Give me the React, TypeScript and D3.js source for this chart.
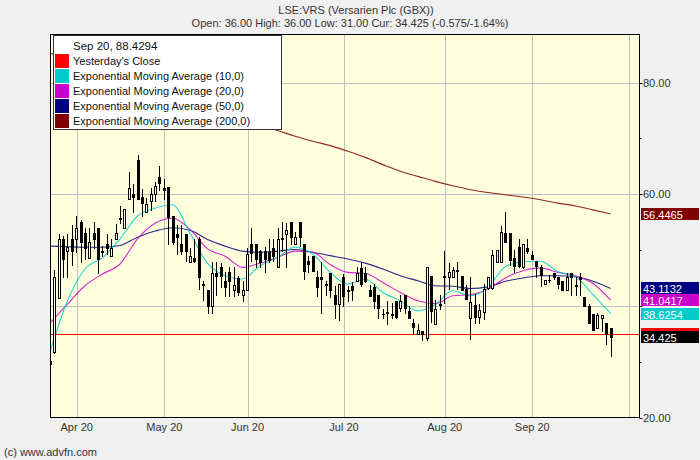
import React, { useEffect, useRef } from 'react';
import * as d3 from 'd3';

// daily candles, 23 Mar 2020 .. 24 Sep 2020 (trading days)
const opens = [
  30.2, 31.8, 41.4, 52.0, 49.9, 52.0, 51.9, 55.1, 53.0, 48.6,
  53.0, 54.0, 49.9, 51.0, 49.0, 51.9, 55.8, 54.0, 59.1, 60.1,
  66.2, 59.5, 56.9, 58.7, 60.1, 63.1, 61.1, 61.3, 56.1, 52.8,
  51.0, 52.8, 47.8, 48.5, 52.0, 44.0, 42.8, 40.0, 45.9, 47.0,
  44.5, 46.0, 42.8, 45.0, 42.0, 42.8, 51.0, 51.0, 49.8, 49.8,
  49.6, 50.4, 46.9, 52.1, 52.9, 55.1, 51.0, 55.1, 51.1, 48.0,
  49.0, 45.1, 45.1, 43.9, 45.9, 42.0, 40.3, 45.1, 42.9, 43.6,
  44.4, 46.8, 45.9, 42.8, 43.4, 42.0, 38.6, 38.9, 38.5, 40.9,
  39.7, 42.0, 39.0, 37.0, 34.9, 35.5, 34.3, 45.4, 36.8, 40.4,
  45.3, 45.1, 45.1, 46.4, 45.3, 43.1, 37.9, 40.1, 38.0, 38.9,
  43.2, 43.2, 47.9, 47.9, 53.1, 53.0, 48.6, 50.5, 47.0, 50.4,
  49.1, 48.1, 47.0, 44.0, 44.7, 45.8, 45.1, 44.5, 42.9, 45.8,
  43.7, 45.1, 41.6, 39.9, 38.6, 36.1, 37.9, 36.9, 36.0,
];
const highs = [
  30.4, 46.5, 52.8, 52.5, 52.8, 54.5, 56.1, 55.3, 54.0, 54.0,
  55.1, 54.0, 50.8, 52.8, 52.0, 54.6, 57.9, 57.3, 63.9, 61.9,
  67.1, 60.9, 59.3, 61.1, 62.1, 65.0, 62.7, 61.3, 56.1, 54.5,
  54.5, 52.8, 50.4, 52.0, 52.3, 44.5, 42.8, 47.8, 47.8, 47.7,
  46.0, 46.9, 46.9, 45.4, 44.5, 50.4, 54.0, 51.0, 50.0, 50.5,
  52.0, 51.9, 54.0, 55.1, 54.8, 55.1, 53.2, 55.1, 51.1, 49.0,
  49.0, 46.3, 47.8, 44.5, 45.9, 43.6, 43.9, 45.7, 43.6, 44.2,
  46.9, 47.8, 46.9, 43.8, 43.9, 42.0, 39.4, 40.9, 40.6, 40.9,
  42.0, 42.0, 40.0, 37.6, 36.7, 35.5, 46.9, 45.4, 41.0, 42.0,
  49.9, 47.7, 46.9, 47.9, 45.3, 43.8, 45.2, 42.1, 40.3, 44.0,
  45.2, 50.0, 50.0, 54.3, 56.9, 53.0, 50.0, 52.0, 51.0, 51.9,
  49.9, 48.1, 47.4, 44.6, 45.6, 45.8, 45.1, 44.5, 45.8, 45.8,
  45.2, 45.8, 41.6, 40.3, 38.6, 38.8, 38.4, 36.9, 36.0,
];
const lows = [
  29.4, 31.6, 41.4, 45.1, 45.1, 47.4, 49.6, 47.8, 48.4, 48.6,
  50.4, 45.9, 49.0, 49.3, 49.0, 51.9, 54.8, 54.0, 59.1, 56.9,
  59.1, 56.1, 56.9, 57.2, 58.7, 60.7, 59.1, 51.1, 51.0, 49.3,
  49.3, 48.0, 47.8, 47.8, 43.0, 41.0, 38.7, 38.8, 42.0, 43.3,
  41.8, 41.8, 41.8, 41.9, 40.9, 42.8, 48.0, 47.0, 46.9, 46.0,
  47.8, 48.0, 46.9, 49.9, 46.9, 51.0, 51.0, 50.7, 44.8, 46.0,
  46.2, 41.8, 38.8, 42.0, 41.5, 37.9, 37.5, 40.0, 40.9, 41.0,
  44.4, 43.6, 44.2, 41.8, 39.7, 37.9, 37.9, 36.8, 37.9, 37.9,
  39.1, 38.8, 37.9, 34.9, 34.9, 33.8, 33.9, 37.1, 36.8, 39.4,
  40.5, 43.0, 45.1, 43.1, 42.9, 41.3, 34.0, 37.0, 36.9, 37.6,
  43.1, 43.1, 47.9, 47.9, 51.4, 47.3, 46.1, 47.0, 46.8, 49.5,
  48.4, 45.2, 43.6, 44.0, 44.3, 44.8, 43.2, 42.9, 42.9, 42.0,
  42.0, 42.0, 39.9, 37.0, 35.7, 36.1, 35.5, 33.1, 31.0,
];
const closes = [
  29.6, 45.1, 52.0, 48.4, 50.6, 49.9, 54.0, 51.4, 50.4, 51.4,
  51.9, 48.4, 49.6, 50.4, 50.4, 53.0, 55.6, 57.3, 61.1, 59.5,
  59.1, 58.5, 58.2, 60.1, 61.4, 62.0, 60.7, 56.0, 51.4, 52.3,
  49.8, 49.8, 49.0, 48.1, 45.1, 43.7, 40.0, 45.9, 45.3, 45.3,
  43.3, 44.4, 43.8, 42.4, 42.8, 49.3, 49.5, 48.4, 47.8, 48.4,
  48.3, 49.0, 51.9, 51.9, 53.5, 52.3, 52.3, 52.3, 46.3, 47.5,
  46.2, 43.3, 44.9, 43.8, 42.8, 40.3, 43.9, 41.7, 42.7, 42.8,
  45.9, 44.0, 44.4, 41.8, 40.8, 39.7, 38.5, 38.7, 38.3, 38.0,
  40.9, 39.7, 37.9, 36.2, 35.6, 34.9, 46.9, 39.0, 39.4, 40.2,
  45.1, 46.0, 46.4, 46.3, 42.9, 41.3, 40.7, 38.0, 39.2, 43.0,
  45.2, 49.1, 50.0, 53.2, 51.4, 48.2, 47.1, 47.2, 51.0, 49.9,
  48.4, 47.2, 45.5, 44.6, 44.6, 45.1, 44.0, 42.9, 45.1, 45.1,
  43.5, 44.9, 39.9, 37.0, 35.7, 38.3, 38.4, 35.0, 34.425,
];

// moving averages every 4 trading days
const emaIdx = [0, 4, 8, 12, 16, 20, 24, 28, 32, 36, 40, 44, 48, 52, 56, 60, 64, 68, 72, 76, 80, 84, 88, 92, 96, 100, 104, 108, 112, 116, 120, 124, 128];
const ema10 = [31.7, 40.9, 46.6, 48.6, 52.0, 56.1, 57.5, 58.1, 53.0, 47.6, 45.4, 44.8, 47.2, 48.7, 50.5, 49.3, 46.0, 43.9, 44.8, 42.4, 40.9, 39.1, 40.3, 42.7, 41.8, 43.3, 47.05, 47.9, 48.0, 46.1, 45.2, 42.0, 38.6254];
const ema20 = [36.9, 40.3, 43.6, 45.7, 47.5, 52.0, 54.8, 55.7, 53.7, 50.2, 48.9, 46.9, 47.65, 48.7, 49.8, 49.6, 47.4, 46.0, 45.8, 44.2, 42.4, 40.9, 40.4, 41.8, 42.0, 43.0, 45.0, 46.3, 46.8, 46.0, 45.4, 44.0, 41.0417];
const ema50 = [50.7, 50.6, 50.5, 50.5, 50.8, 52.3, 53.4, 54.0, 53.55, 51.9, 50.7, 49.8, 49.6, 49.8, 50.1, 49.6, 49.0, 48.4, 47.65, 46.6, 45.4, 44.5, 43.6, 43.5, 43.1, 43.4, 44.4, 45.0, 45.4, 45.4, 45.2, 44.4, 43.1132];
const ema200 = [85.3, 84.0, 82.8, 81.6, 80.5, 79.5, 78.5, 77.5, 76.5, 75.4, 74.3, 73.3, 72.3, 71.4, 70.4, 69.5, 68.7, 67.7, 66.6, 65.3, 64.1, 63.2, 62.3, 61.5, 60.8, 60.3, 59.9, 59.5, 59.0, 58.4, 57.9, 57.2, 56.4465];

const monthLabels = ['Apr 20', 'May 20', 'Jun 20', 'Jul 20', 'Aug 20', 'Sep 20', ''];
const monthStarts = [7, 27, 46, 68, 91, 111, 133];

const yTicks = [20, 40, 60, 80];
const yLabelTicks = [20, 60, 80]; // 40.00 sits under the value boxes
const yMinorTicks = [30, 50, 70];

const yesterdayClose = 35.0;
const lastPrice = 34.425;

const legendNames = [
  "Yesterday's Close",
  'Exponential Moving Average (10,0)',
  'Exponential Moving Average (20,0)',
  'Exponential Moving Average (50,0)',
  'Exponential Moving Average (200,0)',
];
const legendColors = ['#ff0000', '#00cccc', '#cc00cc', '#000080', '#800000'];

const FONT = '"Liberation Sans", Arial, sans-serif';

export default function App() {
  const svgRef = useRef<SVGSVGElement>(null);

  useEffect(() => {
    if (!svgRef.current) return;
    const svg = d3.select(svgRef.current);
    svg.selectAll('*').remove();

    const W = 700, H = 460;
    const left = 50, right = 639.5, top = 34, bottom = 417.5;

    const x = d3.scaleLinear().domain([0, 134.6]).range([49.9, right]);
    const y = d3.scaleLinear().domain([20, 88.7]).range([bottom, top]);
    const px = (v: number) => Math.round(v) + 0.5;

    svg.append('rect').attr('width', W).attr('height', H).attr('fill', '#f0f0f0');

    svg.append('defs').append('clipPath').attr('id', 'plotclip')
      .append('rect').attr('x', left).attr('y', top).attr('width', right - left).attr('height', bottom - top);

    svg.append('rect')
      .attr('x', left).attr('y', top).attr('width', right - left).attr('height', bottom - top)
      .attr('fill', '#ffffdd');

    // grid
    const grid = svg.append('g').attr('stroke', '#c0c0c0').attr('stroke-width', 1);
    yTicks.filter(v => v > 20).forEach(v => {
      grid.append('line').attr('x1', left).attr('x2', right).attr('y1', px(y(v))).attr('y2', px(y(v)));
    });
    monthStarts.forEach(m => {
      const gx = px(x(m - 0.87));
      grid.append('line').attr('x1', gx).attr('x2', gx).attr('y1', top).attr('y2', bottom);
    });

    const plot = svg.append('g').attr('clip-path', 'url(#plotclip)');

    plot.append('line')
      .attr('x1', left).attr('x2', right)
      .attr('y1', px(y(yesterdayClose))).attr('y2', px(y(yesterdayClose)))
      .attr('stroke', '#ff0000');

    const emas = [ema200, ema50, ema20, ema10];
    const emaColors = ['#800000', '#000080', '#cc00cc', '#00cccc'];
    emas.forEach((vals, k) => {
      const line = d3.line<number>()
        .x((_, i) => x(emaIdx[i]))
        .y(d => y(d))
        .curve(d3.curveMonotoneX);
      plot.append('path')
        .attr('d', line(vals))
        .attr('fill', 'none')
        .attr('stroke', emaColors[k])
        .attr('stroke-width', 1.1)
        .attr('stroke-opacity', 0.85);
    });

    // candles
    const candles = plot.append('g');
    opens.forEach((o, i) => {
      const c = closes[i];
      const cx = Math.round(x(i));
      candles.append('line')
        .attr('x1', cx + 0.5).attr('x2', cx + 0.5)
        .attr('y1', Math.round(y(highs[i]))).attr('y2', Math.round(y(lows[i])) + 1)
        .attr('stroke', '#000');
      const yt = Math.round(y(Math.max(o, c)));
      const yb = Math.round(y(Math.min(o, c)));
      if (c > o) {
        candles.append('rect')
          .attr('x', cx - 0.5).attr('y', yt + 0.5)
          .attr('width', 2).attr('height', Math.max(1, yb - yt))
          .attr('fill', '#fff').attr('stroke', '#000');
      } else {
        candles.append('rect')
          .attr('x', cx - 1).attr('y', yt)
          .attr('width', 3).attr('height', Math.max(1, yb - yt + 1))
          .attr('fill', '#000');
      }
    });

    // frame
    svg.append('rect')
      .attr('x', left + 0.5).attr('y', top + 0.5)
      .attr('width', right - left - 0.5).attr('height', bottom - top - 0.5)
      .attr('fill', 'none').attr('stroke', '#000');

    // right axis
    const axis = svg.append('g').attr('font-family', FONT).attr('font-size', 11).attr('fill', '#333');
    yTicks.forEach(v => {
      axis.append('line').attr('x1', right).attr('x2', right + 3)
        .attr('y1', px(y(v))).attr('y2', px(y(v))).attr('stroke', '#000');
    });
    yLabelTicks.forEach(v => {
      axis.append('text').attr('x', 643).attr('y', y(v) + 4).text(v.toFixed(2));
    });
    yMinorTicks.forEach(v => {
      axis.append('line').attr('x1', right).attr('x2', right + 2)
        .attr('y1', px(y(v))).attr('y2', px(y(v))).attr('stroke', '#000');
    });

    // month labels
    monthStarts.forEach((m, i) => {
      if (!monthLabels[i]) return;
      axis.append('text')
        .attr('x', x(m - 0.87)).attr('y', 431)
        .attr('text-anchor', 'middle')
        .text(monthLabels[i]);
    });

    // value boxes on the right
    const boxes = svg.append('g').attr('font-family', FONT).attr('font-size', 11);
    const boxItems = [
      { v: ema200[ema200.length - 1], color: '#800000', label: ema200[ema200.length - 1].toFixed(4) },
      { v: ema50[ema50.length - 1], color: '#000080', label: ema50[ema50.length - 1].toFixed(4) },
      { v: ema20[ema20.length - 1], color: '#cc00cc', label: ema20[ema20.length - 1].toFixed(4) },
      { v: ema10[ema10.length - 1], color: '#00cccc', label: ema10[ema10.length - 1].toFixed(4) },
      { v: yesterdayClose, color: '#ff0000', label: '' },
      { v: lastPrice, color: '#000000', label: String(lastPrice) },
    ];
    boxItems.forEach(b => {
      const cy = y(b.v);
      boxes.append('rect')
        .attr('x', 641).attr('y', Math.round(cy - 6)).attr('width', 58).attr('height', 12)
        .attr('fill', b.color);
      if (b.label) {
        boxes.append('text').attr('x', 643).attr('y', Math.round(cy - 6) + 10.5)
          .attr('fill', '#fff').text(b.label);
      }
    });

    // legend
    const lg = svg.append('g').attr('font-family', FONT).attr('font-size', 11).attr('fill', '#111');
    lg.append('rect').attr('x', 53.5).attr('y', 35.5).attr('width', 228).attr('height', 94)
      .attr('fill', '#fff').attr('stroke', '#333');
    lg.append('text').attr('x', 73).attr('y', 49.5).attr('font-size', 11.5).text('Sep 20, 88.4294');
    legendNames.forEach((name, i) => {
      lg.append('rect').attr('x', 55).attr('y', 54 + 15 * i).attr('width', 14).attr('height', 14)
        .attr('fill', legendColors[i]);
      lg.append('text').attr('x', 73).attr('y', 65 + 15 * i).text(name);
    });

    // titles
    const tt = svg.append('g').attr('font-family', FONT).attr('font-size', 11).attr('fill', '#333')
      .attr('text-anchor', 'middle');
    tt.append('text').attr('x', 356).attr('y', 14).text('LSE:VRS (Versarien Plc (GBX))');
    tt.append('text').attr('x', 350).attr('y', 27)
      .text('Open: 36.00 High: 36.00 Low: 31.00 Cur: 34.425 (-0.575/-1.64%)');

    svg.append('text').attr('x', 4).attr('y', 456)
      .attr('font-family', FONT).attr('font-size', 11).attr('fill', '#333')
      .text('(c) www.advfn.com');
  }, []);

  return (
    <div style={{ position: 'absolute', left: 0, top: 0 }}>
      <svg ref={svgRef} width={700} height={460} style={{ display: 'block' }} />
    </div>
  );
}
